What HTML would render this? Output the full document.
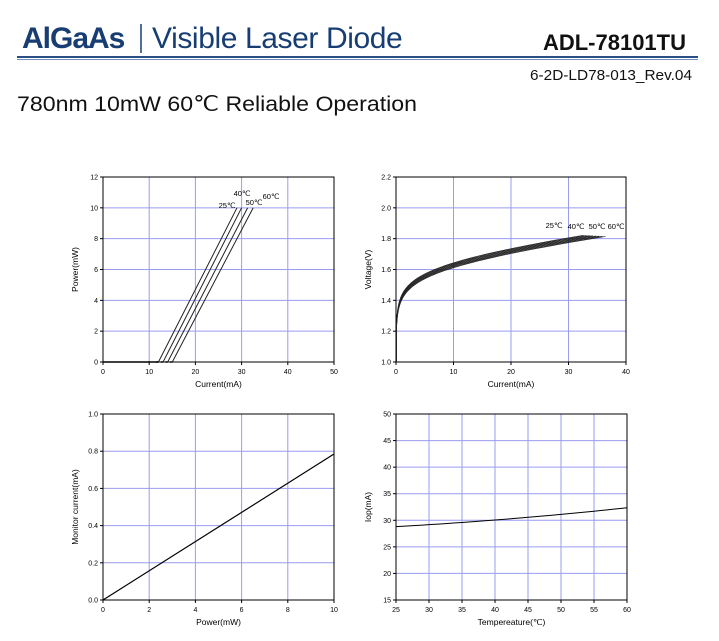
<!DOCTYPE html>
<html><head><meta charset="utf-8"><style>
body{margin:0;background:#fff;width:719px;height:636px;overflow:hidden;font-family:"Liberation Sans",sans-serif}
</style></head><body>
<svg id="s" width="719" height="636" xmlns="http://www.w3.org/2000/svg" font-family="Liberation Sans, sans-serif">
<text x="22" y="48" font-size="30" font-weight="bold" fill="#173d72" letter-spacing="-1">AlGaAs</text>
<line x1="141" y1="24" x2="141" y2="53" stroke="#173d72" stroke-width="1.5"/>
<text x="152" y="48" font-size="30" fill="#173d72" letter-spacing="-0.4">Visible Laser Diode</text>
<text x="686" y="50" font-size="22" font-weight="bold" fill="#111" text-anchor="end">ADL-78101TU</text>
<rect x="17" y="56" width="681" height="2" fill="#2a4f86"/>
<rect x="17" y="59" width="681" height="1" fill="#6f8fbf"/>
<text x="692" y="80" font-size="14.5" fill="#111" text-anchor="end" textLength="162" lengthAdjust="spacingAndGlyphs">6-2D-LD78-013_Rev.04</text>
<text x="17" y="111" font-size="21" fill="#111" textLength="400" lengthAdjust="spacingAndGlyphs">780nm 10mW 60℃ Reliable Operation</text>
<g id="g"></g>
</svg>
<script>
var g=document.getElementById('g'),h='';
function L(x1,y1,x2,y2,c,w){h+='<line x1="'+x1+'" y1="'+y1+'" x2="'+x2+'" y2="'+y2+'" stroke="'+c+'" stroke-width="'+(w||1)+'"/>';}
function T(x,y,t,s,a,extra){h+='<text x="'+x+'" y="'+y+'" font-size="'+s+'" text-anchor="'+(a||'middle')+'" '+(extra||'')+'>'+t+'</text>';}
function frame(x0,y0,x1,y1,xt,yt,xl,yl,xlab,ylab){
 for(var i=0;i<xt.length;i++){var x=x0+(x1-x0)*i/(xt.length-1);if(i>0&&i<xt.length-1)L(x,y0,x,y1,'#9a9cf0');L(x,y1,x,y1+3,'#000');T(x,y1+12,xt[i],7);}
 for(var i=0;i<yt.length;i++){var y=y1-(y1-y0)*i/(yt.length-1);if(i>0&&i<yt.length-1)L(x0,y,x1,y,'#9a9cf0');L(x0-3,y,x0,y,'#000');T(x0-5,y+2.5,yt[i],7,'end');}
 h+='<rect x="'+x0+'" y="'+y0+'" width="'+(x1-x0)+'" height="'+(y1-y0)+'" fill="none" stroke="#000"/>';
 T((x0+x1)/2,y1+25,xlab,8.5);
 h+='<text x="'+(x0-25)+'" y="'+((y0+y1)/2)+'" font-size="8.5" text-anchor="middle" transform="rotate(-90 '+(x0-25)+' '+((y0+y1)/2)+')">'+ylab+'</text>';
}
frame(103,177,334,362,[0,10,20,30,40,50],[0,2,4,6,8,10,12],0,0,'Current(mA)','Power(mW)');
frame(396,177,626,362,[0,10,20,30,40],['1.0','1.2','1.4','1.6','1.8','2.0','2.2'],0,0,'Current(mA)','Voltage(V)');
frame(103,414,334,600,[0,2,4,6,8,10],['0.0','0.2','0.4','0.6','0.8','1.0'],0,0,'Power(mW)','Monitor current(mA)');
frame(396,414,627,600,[25,30,35,40,45,50,55,60],[15,20,25,30,35,40,45,50],0,0,'Tempereature(℃)','Iop(mA)');
function p1x(i){return 103+i*231/50} function p1y(p){return 362-p*185/12}
L(p1x(0),362,p1x(12),362,'#000',1.5);
[[12,29],[13,30],[14,31.3],[15,32.5]].forEach(function(a){L(p1x(a[0]),362,p1x(a[1]),p1y(10),'#222',1);L(p1x(a[0]-0.5),362,p1x(a[0]),362,'#000',1.5);});
T(227,208,'25℃',7.5);T(242,196,'40℃',7.5);T(254,205,'50℃',7.5);T(271,199,'60℃',7.5);
function p2x(i){return 396+i*230/40} function p2y(v){return 362-(v-1)*185/1.2}
for(var k=0;k<8;k++){var end=32.6+k*0.55,off=-k*0.0045,d='';var first=true;
 var pts=[];for(var i=0.08;i<end;i*=1.06)pts.push(i);pts.push(end);
 pts.forEach(function(i){var v=1.34+0.075*Math.log(i/0.3)+0.004*i+off;if(v<1)v=1;d+=(first?'M':' L')+p2x(i).toFixed(2)+' '+p2y(v).toFixed(2);first=false;});
 d='M'+p2x(0.06).toFixed(2)+' 362 L'+d.substring(1);
 h+='<path d="'+d+'" fill="none" stroke="#222" stroke-width="0.7"/>';}
T(554,228,'25℃',7.5);T(576,229,'40℃',7.5);T(597,229,'50℃',7.5);T(616,229,'60℃',7.5);
L(103,600,334,600-0.785*186,'#000',1.2);
var d='M396 '+(600-(28.8-15)*186/35);for(var t=25;t<=60;t+=1){var v=28.8+0.07*(t-25)+0.0009*(t-25)*(t-25);d+=' L'+(396+(t-25)*231/35)+' '+(600-(v-15)*186/35).toFixed(2);}
h+='<path d="'+d+'" fill="none" stroke="#000" stroke-width="1"/>';
g.innerHTML=h;
</script>
</body></html>
